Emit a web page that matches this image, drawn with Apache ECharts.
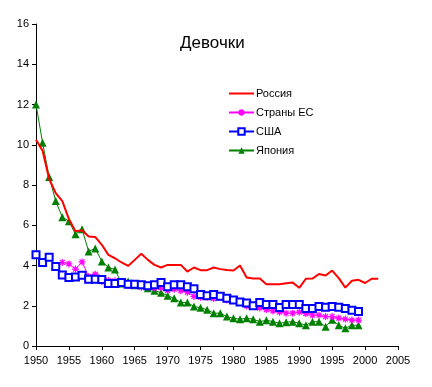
<!DOCTYPE html>
<html><head><meta charset="utf-8">
<script src="https://cdn.jsdelivr.net/npm/echarts@6/dist/echarts.min.js"></script>
<style>html,body{margin:0;padding:0;background:#fff}#c{width:432px;height:387px}</style>
</head><body><div id="c"></div>
<script>
var titleText = 'Девочки';
var seriesNames = ['Россия', 'Страны ЕС', 'США', 'Япония'];
var xTicks = [1950, 1955, 1960, 1965, 1970, 1975, 1980, 1985, 1990, 1995, 2000, 2005];
var yTicks = [0, 2, 4, 6, 8, 10, 12, 14, 16];

var russiaStart = 1950;
var russia = [10.25, 9.7, 8.3, 7.6, 7.2, 6.3, 5.7, 5.75, 5.44, 5.42, 5.03, 4.53, 4.36, 4.15, 3.98, 4.28, 4.58, 4.28, 4.03, 3.9, 4.03, 4.03, 4.03, 3.7, 3.9, 3.77, 3.77, 3.9, 3.82, 3.78, 3.75, 4.0, 3.4, 3.35, 3.35, 3.07, 3.07, 3.07, 3.12, 3.15, 2.89, 3.34, 3.35, 3.58, 3.5, 3.75, 3.37, 2.9, 3.24, 3.29, 3.13, 3.34, 3.34];

var euStart = 1954;
var eu = [4.15, 4.08, 3.82, 4.18, 3.45, 3.57, 3.2, 3.25, 3.24, 3.12, 2.99, 3.02, 2.92, 2.92, 2.9, 2.89, 2.75, 2.82, 2.75, 2.67, 2.46, 2.42, 2.42, 2.36, 2.42, 2.29, 2.26, 2.16, 1.99, 1.96, 1.89, 1.81, 1.74, 1.68, 1.63, 1.63, 1.68, 1.61, 1.54, 1.53, 1.46, 1.46, 1.39, 1.34, 1.29, 1.29];

var usaStart = 1950;
var usa = [4.53, 4.15, 4.41, 3.95, 3.53, 3.4, 3.43, 3.52, 3.32, 3.32, 3.3, 3.1, 3.1, 3.15, 3.07, 3.07, 3.04, 2.99, 3.04, 3.15, 2.95, 3.04, 3.04, 2.95, 2.85, 2.56, 2.5, 2.56, 2.47, 2.37, 2.29, 2.19, 2.14, 2.0, 2.16, 2.06, 2.06, 1.91, 2.06, 2.06, 2.06, 1.86, 1.86, 1.96, 1.92, 1.96, 1.92, 1.86, 1.78, 1.71];

var japanStart = 1950;
var japan = [12.0, 10.1, 8.4, 7.2, 6.4, 6.2, 5.55, 5.8, 4.7, 4.85, 4.2, 3.9, 3.8, 3.1, 3.2, 3.02, 3.07, 2.87, 2.75, 2.65, 2.5, 2.37, 2.16, 2.16, 1.96, 1.9, 1.8, 1.63, 1.63, 1.46, 1.38, 1.33, 1.38, 1.33, 1.21, 1.28, 1.21, 1.13, 1.18, 1.21, 1.13, 1.03, 1.21, 1.21, 0.96, 1.3, 1.03, 0.88, 1.03, 1.03];

function pairs(start, arr) { return arr.map(function (v, i) { return [start + i, v]; }); }

var font = 'Liberation Sans, Arial, sans-serif';
var asterisk = 'path://M5,0L5,10M0,5L10,5M1.5,1.5L8.5,8.5M1.5,8.5L8.5,1.5';

var chart = echarts.init(document.getElementById('c'), null, {renderer: 'canvas'});
chart.setOption({
  animation: false,
  backgroundColor: '#fff',
  title: {text: titleText, left: 175, top: 30, textStyle: {fontFamily: font, fontSize: 17, fontWeight: 'normal', color: '#000'}},
  legend: {
    orient: 'vertical', left: 223, top: 83, itemGap: 8, itemWidth: 25, itemHeight: 8,
    textStyle: {fontFamily: font, fontSize: 11, color: '#000', padding: [0, 0, 0, -3]},
    data: seriesNames
  },
  grid: {left: 36, right: 34, top: 24, bottom: 41},
  xAxis: {
    type: 'value', min: xTicks[0], max: xTicks[xTicks.length - 1], interval: 5,
    splitLine: {show: false},
    axisLine: {lineStyle: {color: '#000', width: 1}},
    axisTick: {show: true, length: 4, lineStyle: {color: '#000'}},
    axisLabel: {fontFamily: font, fontSize: 11, color: '#000', margin: 9, formatter: function (v) { return String(v); }}
  },
  yAxis: {
    type: 'value', min: yTicks[0], max: yTicks[yTicks.length - 1], interval: 2,
    splitLine: {show: false},
    axisLine: {show: true, lineStyle: {color: '#000', width: 1}},
    axisTick: {show: true, length: 4, lineStyle: {color: '#000'}},
    axisLabel: {fontFamily: font, fontSize: 11, color: '#000', margin: 7}
  },
  series: [
    {name: seriesNames[0], type: 'line', data: pairs(russiaStart, russia), symbol: 'none',
     lineStyle: {color: '#ff0000', width: 2}, itemStyle: {color: 'rgba(0,0,0,0)', borderWidth: 0}, z: 5},
    {name: seriesNames[1], type: 'line', data: pairs(euStart, eu), symbol: asterisk, symbolSize: 7,
     lineStyle: {color: '#ff00ff', width: 1}, itemStyle: {color: '#ff00ff', borderColor: '#ff00ff', borderWidth: 1.2}, z: 3},
    {name: seriesNames[2], type: 'line', data: pairs(usaStart, usa), symbol: 'emptyRect', symbolSize: 7,
     lineStyle: {color: '#0000ff', width: 1}, itemStyle: {color: '#0000ff', borderWidth: 1.3}, z: 4},
    {name: seriesNames[3], type: 'line', data: pairs(japanStart, japan), symbol: 'triangle', symbolSize: 8,
     lineStyle: {color: '#008000', width: 1}, itemStyle: {color: '#008000'}, z: 2}
  ]
});
</script></body></html>
